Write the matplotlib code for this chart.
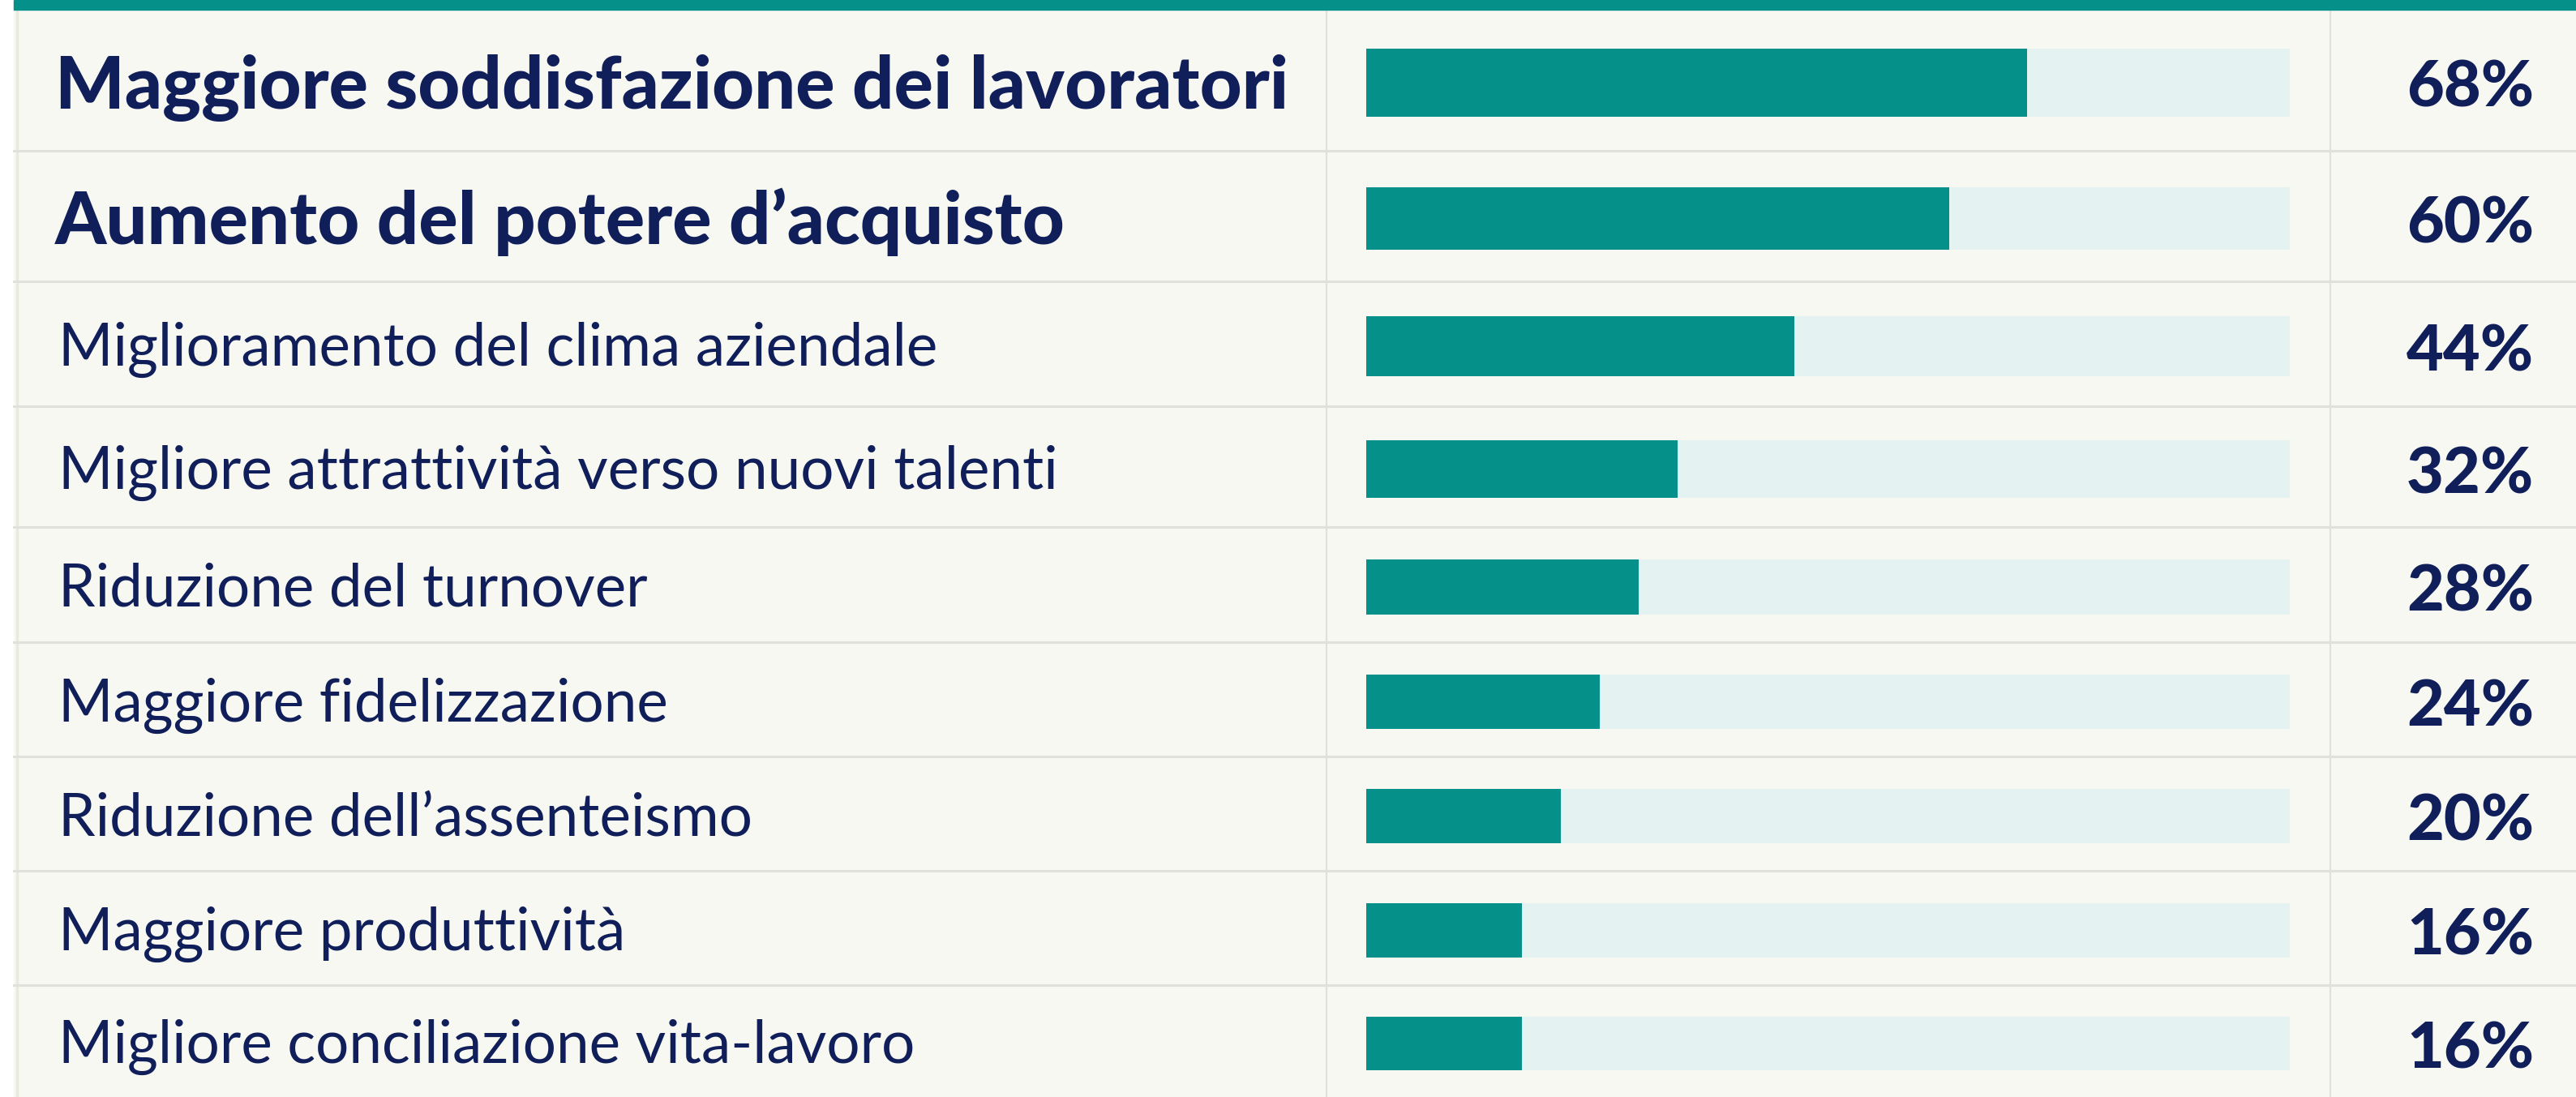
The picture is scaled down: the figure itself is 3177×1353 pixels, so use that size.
import matplotlib
matplotlib.use("Agg")
import matplotlib.pyplot as plt
from matplotlib.patches import Rectangle

# data
labels = [
    "Maggiore soddisfazione dei lavoratori",
    "Aumento del potere d\u2019acquisto",
    "Miglioramento del clima aziendale",
    "Migliore attrattivit\u00e0 verso nuovi talenti",
    "Riduzione del turnover",
    "Maggiore fidelizzazione",
    "Riduzione dell\u2019assenteismo",
    "Maggiore produttivit\u00e0",
    "Migliore conciliazione vita-lavoro",
]
values = [68, 60, 44, 32, 28, 24, 20, 16, 16]
highlight = [True, True, False, False, False, False, False, False, False]

# layout (pixels)
W, H = 3177, 1353
row_edges = [12, 186, 347, 501, 650, 792, 933, 1074, 1215, 1353]
bar_x0, bar_x1 = 1685, 2824
track_max = 95

teal = "#05918A"
track = "#E4F2F1"
panel = "#F7F8F2"
navy = "#101E5A"
grid = "#E0E2D9"

fig = plt.figure(figsize=(W / 100, H / 100), dpi=100, facecolor="white")

bg = fig.add_axes([0, 0, 1, 1])
bg.set_xlim(0, W)
bg.set_ylim(H, 0)
bg.axis("off")

bg.add_patch(Rectangle((17, 0), W - 17, H, color=panel, zorder=0))
bg.add_patch(Rectangle((17, 0), W - 17, 12, color=teal, zorder=3))
bg.plot([21, 21], [12, H], color="#E8EADF", lw=2.5, zorder=1)
for y in row_edges[1:-1]:
    bg.plot([17, W], [y, y], color=grid, lw=2.2, zorder=1)
for x in (1636, 2874):
    bg.plot([x, x], [12, H], color=grid, lw=1.6, zorder=1)

centers = [(a + b) / 2 for a, b in zip(row_edges[:-1], row_edges[1:])]
heights = [b - a for a, b in zip(row_edges[:-1], row_edges[1:])]

for lab, v, hl, yc in zip(labels, values, highlight, centers):
    if hl:
        bg.text(68, yc + 3 + 32, lab, fontsize=65, fontfamily="Lato",
                fontweight="black", color=navy, va="baseline", ha="left")
    else:
        bg.text(72, yc + 27, lab, fontsize=52.5, fontfamily="Lato",
                fontweight="normal", color=navy, va="baseline", ha="left")
    bg.text(3125, yc + 3 + 30, f"{v}%", fontsize=57, fontfamily="Lato",
            fontweight="black", color=navy, va="baseline", ha="right")

ax = fig.add_axes([bar_x0 / W, 0, (bar_x1 - bar_x0) / W, 1])
ax.set_xlim(0, track_max)
ax.set_ylim(H, 0)
ax.axis("off")
bar_h = [h * 0.48 for h in heights]
bar_y = [c + 3 for c in centers]
ax.barh(bar_y, [track_max] * len(values), height=bar_h, color=track, zorder=1)
ax.barh(bar_y, values, height=bar_h, color=teal, zorder=2)

fig.savefig("out.png", dpi=100, facecolor="white")
